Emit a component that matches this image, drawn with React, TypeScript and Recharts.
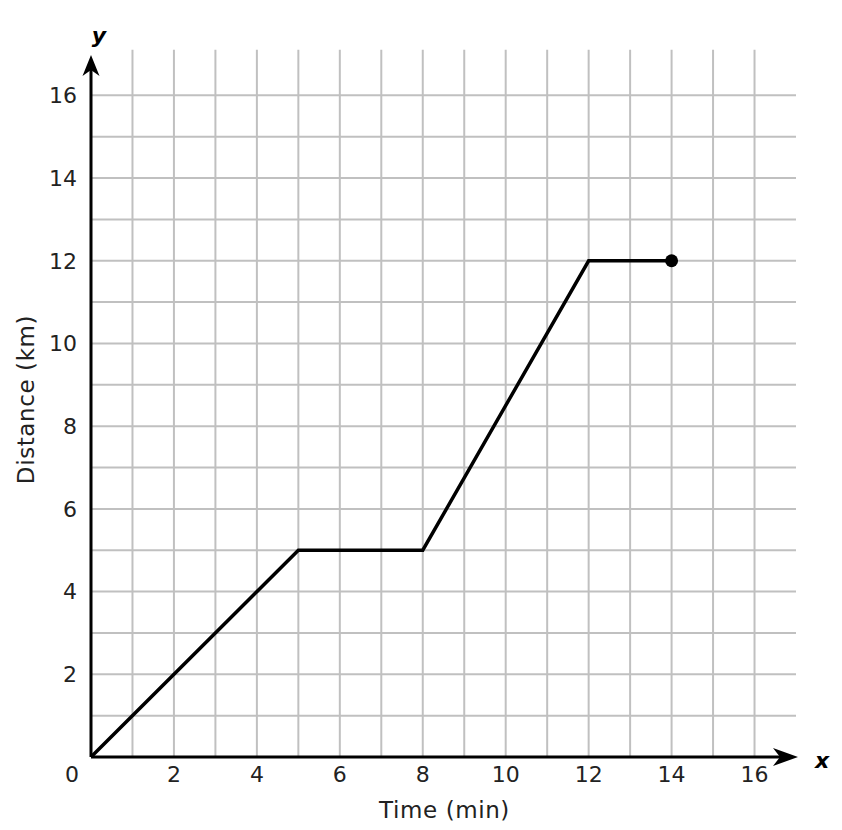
import React from "react";
import {
  LineChart,
  Line,
  XAxis,
  YAxis,
  ReferenceLine,
  Label,
} from "recharts";

const times = [0, 5, 8, 12, 14];
const distances = [0, 5, 5, 12, 12];
const axisTicks = [0, 1, 2, 3, 4, 5, 6, 7, 8, 9, 10, 11, 12, 13, 14, 15, 16];
const gridLines = [1, 2, 3, 4, 5, 6, 7, 8, 9, 10, 11, 12, 13, 14, 15, 16];

const data = times.map((t, i) => ({ time: t, distance: distances[i] }));

const FONT = "'DejaVu Sans', Verdana, sans-serif";
const GRID = "#c0c0c0";

const XTick = (props: any) => {
  const { x, y, payload } = props;
  if (payload.value % 2 !== 0) return <g />;
  return (
    <text
      x={x + (payload.value === 0 ? -19 : 0)}
      y={y}
      dy="0.71em"
      textAnchor="middle"
      fontSize={22}
      fontFamily={FONT}
      fill="#222"
    >
      {payload.value}
    </text>
  );
};

const YTick = (props: any) => {
  const { x, y, payload } = props;
  if (payload.value % 2 !== 0 || payload.value === 0) return <g />;
  return (
    <text
      x={x}
      y={y}
      dy="0.355em"
      textAnchor="end"
      fontSize={22}
      fontFamily={FONT}
      fill="#222"
    >
      {payload.value}
    </text>
  );
};

// x axis line with arrow head and the "x" letter
const XArrow = (props: any) => {
  const { x1, y1, x2 } = props;
  const y = y1;
  const tip = x2 + 2;
  return (
    <g>
      <line x1={x1} y1={y} x2={tip - 16} y2={y} stroke="#000" strokeWidth={3} />
      <polygon
        points={`${tip},${y} ${tip - 25},${y - 9} ${tip - 18},${y} ${tip - 25},${y + 9}`}
        fill="#000"
      />
      <text
        x={tip + 24}
        y={y + 11}
        textAnchor="middle"
        fontSize={22}
        fontWeight="bold"
        fontStyle="italic"
        fontFamily={FONT}
        fill="#000"
      >
        x
      </text>
    </g>
  );
};

// y axis line with arrow head and the "y" letter
const YArrow = (props: any) => {
  const { x1, y1, y2 } = props;
  const x = x1;
  const bottom = Math.max(y1, y2);
  const tip = Math.min(y1, y2) + 1;
  return (
    <g>
      <line x1={x} y1={bottom} x2={x} y2={tip + 14} stroke="#000" strokeWidth={3} />
      <polygon
        points={`${x},${tip} ${x - 8.5},${tip + 21} ${x},${tip + 15} ${x + 8.5},${tip + 21}`}
        fill="#000"
      />
      <text
        x={x + 8}
        y={tip - 12}
        textAnchor="middle"
        fontSize={22}
        fontWeight="bold"
        fontStyle="italic"
        fontFamily={FONT}
        fill="#000"
      >
        y
      </text>
    </g>
  );
};

const EndDot = (props: any) => {
  const { cx, cy, index } = props;
  if (index !== data.length - 1) return <g key={index} />;
  return <circle key={index} cx={cx} cy={cy} r={6.5} fill="#000" />;
};

export default function App() {
  return (
    <LineChart
      width={826}
      height={814}
      data={data}
      margin={{ top: 46, right: 38, left: 0, bottom: 5 }}
    >
      <XAxis
        dataKey="time"
        type="number"
        domain={[0, 17]}
        ticks={axisTicks}
        interval={0}
        allowDataOverflow
        axisLine={false}
        tickLine={false}
        tickSize={0}
        tickMargin={9}
        height={60}
        tick={<XTick />}
      >
        <Label
          content={(p: any) => {
            const vb = p.viewBox;
            return (
              <text
                x={vb.x + vb.width / 2 + 1}
                y={vb.y + 61}
                textAnchor="middle"
                fontSize={23}
                letterSpacing={0.6}
                fontFamily={FONT}
                fill="#222"
              >
                Time (min)
              </text>
            );
          }}
        />
      </XAxis>
      <YAxis
        type="number"
        domain={[0, 17]}
        ticks={axisTicks}
        interval={0}
        allowDataOverflow
        axisLine={false}
        tickLine={false}
        tickSize={0}
        tickMargin={14}
        width={83}
        tick={<YTick />}
      >
        <Label
          content={(p: any) => {
            const vb = p.viewBox;
            const cx = 18;
            const cy = vb.y + vb.height / 2 - 6;
            return (
              <text
                x={cx}
                y={cy}
                transform={`rotate(-90, ${cx}, ${cy})`}
                textAnchor="middle"
                dominantBaseline="central"
                fontSize={23}
                letterSpacing={0.6}
                fontFamily={FONT}
                fill="#222"
              >
                Distance (km)
              </text>
            );
          }}
        />
      </YAxis>
      {gridLines.map((v) => (
        <ReferenceLine
          key={`v${v}`}
          segment={[
            { x: v, y: 0 },
            { x: v, y: 17.1 },
          ]}
          ifOverflow="visible"
          stroke={GRID}
          strokeWidth={2}
        />
      ))}
      {gridLines.map((v) => (
        <ReferenceLine
          key={`h${v}`}
          y={v}
          ifOverflow="visible"
          stroke={GRID}
          strokeWidth={2}
        />
      ))}
      <ReferenceLine y={0} ifOverflow="visible" shape={<XArrow />} />
      <ReferenceLine x={0} ifOverflow="visible" shape={<YArrow />} />
      <Line
        type="linear"
        dataKey="distance"
        stroke="#000"
        strokeWidth={3.5}
        dot={EndDot}
        activeDot={false}
        isAnimationActive={false}
      />
    </LineChart>
  );
}
